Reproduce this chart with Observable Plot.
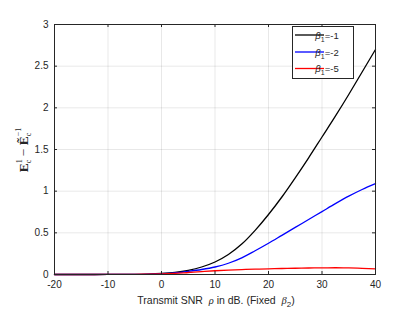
<!DOCTYPE html>
<html><head><meta charset="utf-8">
<script src="https://cdn.jsdelivr.net/npm/d3@7"></script>
<script src="https://cdn.jsdelivr.net/npm/@observablehq/plot@0.6"></script>
<style>body{margin:0;background:#fff}</style>
</head><body><div id="chart"></div>
<script>
const snr = [-20,-15,-10,-5,-2.5,0,2.5,5,7.5,10,12.5,15,17.5,20,22.5,25,27.5,30,32.5,35,37.5,40];
const beta1m1 = [0,0,0.0005,0.002,0.005,0.012,0.025,0.05,0.09,0.15,0.24,0.365,0.53,0.72,0.93,1.16,1.40,1.65,1.90,2.16,2.43,2.70];
const beta1m2 = [0,0,0.0005,0.002,0.005,0.01,0.02,0.038,0.06,0.09,0.135,0.20,0.285,0.375,0.47,0.565,0.66,0.755,0.85,0.94,1.02,1.09];
const beta1m5 = [0,0,0.0005,0.002,0.004,0.007,0.013,0.024,0.035,0.045,0.053,0.059,0.064,0.068,0.072,0.075,0.078,0.08,0.081,0.08,0.074,0.068];
const seriesNames = ["β1=-1","β1=-2","β1=-5"];
const seriesColors = ["#000000","#0000ff","#ff0000"];
const xTicks = [-20,-10,0,10,20,30,40];
const yTicks = [0,0.5,1,1.5,2,2.5,3];
const yTickLabels = ["0","0.5","1","1.5","2","2.5","3"];

const all = [beta1m1, beta1m2, beta1m5];
const rows = [];
all.forEach((arr, k) => arr.forEach((v, i) => rows.push({x: snr[i], y: v, s: seriesNames[k]})));

const tx = 60*3/321, ty = 3*3/250;
const plot = Plot.plot({
  width: 415, height: 312,
  marginLeft: 54, marginRight: 40, marginTop: 24, marginBottom: 38,
  style: {fontFamily: "'Liberation Sans', Arial, sans-serif", fontSize: "10px", color: "#262626", background: "#fff"},
  x: {domain: [-20, 40]},
  y: {domain: [0, 3]},
  color: {domain: seriesNames, range: seriesColors},
  marks: [
    Plot.gridX(xTicks, {stroke: "#000", strokeOpacity: 0.09}),
    Plot.gridY(yTicks, {stroke: "#000", strokeOpacity: 0.09}),
    Plot.line(rows, {x: "x", y: "y", z: "s", stroke: "s", strokeWidth: 1.3, curve: "monotone-x"}),
    Plot.ruleX(xTicks, {y1: 0, y2: ty, stroke: "#262626"}),
    Plot.ruleX(xTicks, {y1: 3 - ty, y2: 3, stroke: "#262626"}),
    Plot.ruleY(yTicks, {x1: -20, x2: -20 + tx, stroke: "#262626"}),
    Plot.ruleY(yTicks, {x1: 40 - tx, x2: 40, stroke: "#262626"}),
    Plot.frame({stroke: "#262626", strokeWidth: 1}),
    Plot.axisX(xTicks, {tickSize: 0, tickPadding: 6, label: null, tickFormat: d => String(d)}),
    Plot.axisY(yTicks, {tickSize: 0, tickPadding: 6, label: null, tickFormat: (d, i) => yTickLabels[yTicks.indexOf(d)]})
  ]
});
document.getElementById("chart").appendChild(plot);

const svg = d3.select(plot);
// x label
const xl = svg.append("text").attr("x", 216).attr("y", 304).attr("text-anchor", "middle")
  .attr("font-family", "'Liberation Sans', Arial, sans-serif").attr("font-size", 10.5).attr("fill", "#262626");
xl.append("tspan").text("Transmit SNR  ");
xl.append("tspan").attr("font-style", "italic").attr("font-family", "'Liberation Serif', serif").text("ρ");
xl.append("tspan").text(" in dB. (Fixed  ");
xl.append("tspan").attr("font-style", "italic").attr("font-family", "'Liberation Serif', serif").text("β");
xl.append("tspan").attr("dy", 3).attr("font-size", 8).text("2");
xl.append("tspan").attr("dy", -3).text(")");

// y label
const yl = svg.append("text").attr("transform", "translate(28,150) rotate(-90)").attr("text-anchor", "middle")
  .attr("font-family", "'Liberation Serif', 'DejaVu Serif', serif").attr("font-size", 13.5).attr("fill", "#262626");
yl.append("tspan").attr("font-weight", "bold").text("E");
yl.append("tspan").attr("dy", -6).attr("font-size", 8).text("1");
yl.append("tspan").attr("dx", -4).attr("dy", 9).attr("font-size", 8).text("c");
yl.append("tspan").attr("dy", -3).text(" − ");
yl.append("tspan").attr("font-weight", "bold").text("Ẽ");
yl.append("tspan").attr("dy", -7).attr("font-size", 8).text("−1");
yl.append("tspan").attr("dx", -8.5).attr("dy", 10).attr("font-size", 8).text("c");

// legend
const lg = svg.append("g");
lg.append("rect").attr("x", 292.5).attr("y", 26.5).attr("width", 61).attr("height", 52)
  .attr("fill", "#fff").attr("stroke", "#262626").attr("stroke-width", 1);
const ys = [35, 52, 68.5];
seriesNames.forEach((n, i) => {
  lg.append("line").attr("x1", 295).attr("x2", 324).attr("y1", ys[i]).attr("y2", ys[i])
    .attr("stroke", seriesColors[i]).attr("stroke-width", 1.3);
  const t = lg.append("text").attr("x", 327).attr("y", ys[i] + 3.5)
    .attr("font-family", "'Liberation Sans', Arial, sans-serif").attr("font-size", 9.5).attr("fill", "#262626");
  t.append("tspan").attr("font-style", "italic").text("β");
  t.append("tspan").attr("dy", 3).attr("font-size", 7).text("1");
  t.append("tspan").attr("dy", -3).text("=" + ["-1","-2","-5"][i]);
});
</script>
</body></html>
